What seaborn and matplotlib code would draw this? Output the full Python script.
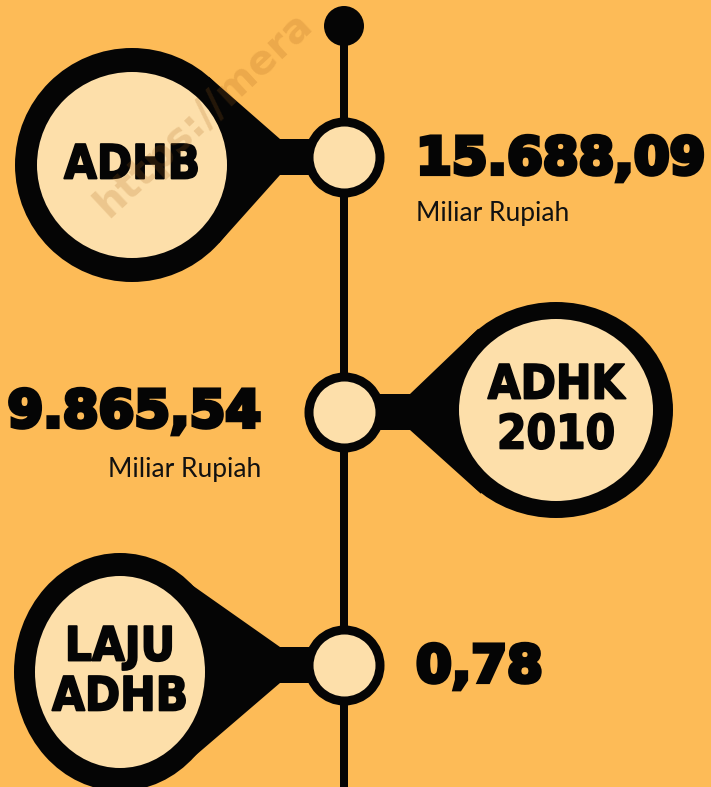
import numpy as np
import pandas as pd
import matplotlib
matplotlib.use("Agg")
import matplotlib.pyplot as plt
import matplotlib.patheffects as pe
import seaborn as sns
from matplotlib.patches import Ellipse, Polygon

# ---- data ----
labels = ["ADHB", "ADHK\n2010", "LAJU\nADHB"]
values = ["15.688,09", "9.865,54", "0,78"]
units = ["Miliar Rupiah", "Miliar Rupiah", ""]
sides = ["left", "right", "left"]          # side of the big bubble
node_y = [157, 412, 665]                  # timeline node positions (px)
watermark = "https://mera"

BG = "#FDBB57"
CREAM = "#FDDFAA"
INK = "#050505"

sns.set_theme(style="white")
plt.rcParams["font.family"] = ["DejaVu Sans"]

W, H = 711, 787
fig = plt.figure(figsize=(W / 100, H / 100), dpi=100, facecolor=BG)
ax = fig.add_axes([0, 0, 1, 1])
ax.set_facecolor(BG)

LX = 344
PX2PT = 0.72

# vertical timeline
ax.plot([LX, LX], [26, H + 5], color=INK, lw=8 * PX2PT, zorder=2, solid_capstyle="butt")

geo = [
    dict(cx=132, cy=165, rx=117, ry=117, irx=95, iry=93, neck_x=280),
    dict(cx=556, cy=410, rx=117, ry=108, irx=97, iry=91, neck_x=410),
    dict(cx=120, cy=672, rx=106, ry=119, irx=85, iry=96, neck_x=280),
]

def tangent_pts(px, py, cx, cy, r):
    dx, dy = px - cx, py - cy
    d = np.hypot(dx, dy)
    th = np.arctan2(dy, dx)
    a = np.arccos(min(r / d, 0.999))
    p1 = (cx + r * np.cos(th + a), cy + r * np.sin(th + a))
    p2 = (cx + r * np.cos(th - a), cy + r * np.sin(th - a))
    return p1, p2

NECK_H = 18
label_fx = [pe.withStroke(linewidth=1.3, foreground=INK, capstyle="round", joinstyle="round")]
for i, (lab, ny) in enumerate(zip(labels, node_y)):
    g = geo[i]
    cx, cy = g["cx"], g["cy"]
    r = (g["rx"] + g["ry"]) / 2
    nx = g["neck_x"]
    top = (nx, ny - NECK_H)
    bot = (nx, ny + NECK_H)
    t1 = tangent_pts(*top, cx, cy, r)
    t2 = tangent_pts(*bot, cx, cy, r)
    ttop = min(t1, key=lambda p: p[1])
    tbot = max(t2, key=lambda p: p[1])
    poly = [ttop, top, (LX, top[1]), (LX, bot[1]), bot, tbot, (cx, cy)]
    ax.add_patch(Polygon(poly, closed=True, fc=INK, ec=INK, lw=0, zorder=3))
    ax.add_patch(Ellipse((cx, cy), 2 * g["rx"], 2 * g["ry"], fc=INK, ec="none", zorder=3))
    ax.add_patch(Ellipse((cx, cy), 2 * g["irx"], 2 * g["iry"], fc=CREAM, ec="none", zorder=4))
    ax.text(cx, cy + 1, lab, ha="center", va="center", fontsize=34, fontweight="bold",
            fontstretch="condensed", color=INK, linespacing=1.14, zorder=5,
            fontfamily="DejaVu Sans", path_effects=label_fx)

# timeline nodes via seaborn
nodes = pd.DataFrame({"x": [LX] * len(node_y), "y": node_y})
ring_px = 9
outer_r = 40
d_pt = (2 * outer_r - ring_px) * PX2PT
sns.scatterplot(data=nodes, x="x", y="y", ax=ax, s=d_pt ** 2, color=CREAM,
                edgecolor=INK, linewidth=ring_px * PX2PT, zorder=6, legend=False)
top_dot = pd.DataFrame({"x": [LX], "y": [26]})
sns.scatterplot(data=top_dot, x="x", y="y", ax=ax, s=(40 * PX2PT) ** 2, color=INK,
                edgecolor="none", linewidth=0, zorder=6, legend=False)
ax.set_xlim(0, W)
ax.set_ylim(H, 0)
ax.axis("off")

# values and units
val_fx = [pe.withStroke(linewidth=3.0, foreground=INK, joinstyle="miter")]
for i, (val, unit, side, ny) in enumerate(zip(values, units, sides, node_y)):
    if side == "left":
        ax.text(416, ny + 3, val, ha="left", va="center", fontsize=37, fontweight="bold",
                color=INK, zorder=7, fontfamily="DejaVu Sans", path_effects=val_fx)
        if unit:
            ax.text(416, ny + 56, unit, ha="left", va="center", fontsize=19,
                    fontweight="normal", color="#111111", zorder=7, fontfamily="Lato")
    else:
        ax.text(261, ny + 1, val, ha="right", va="center", fontsize=37, fontweight="bold",
                color=INK, zorder=7, fontfamily="DejaVu Sans", path_effects=val_fx)
        if unit:
            ax.text(261, ny + 57, unit, ha="right", va="center", fontsize=19,
                    fontweight="normal", color="#111111", zorder=7, fontfamily="Lato")

# watermark on top
ax.text(108, 218, watermark, rotation=43, rotation_mode="anchor",
        fontsize=29, fontweight="bold", color="#A8641A", alpha=0.2,
        ha="left", va="baseline", zorder=10, fontfamily="DejaVu Sans")

fig.savefig("out.png", dpi=100, facecolor=BG)
